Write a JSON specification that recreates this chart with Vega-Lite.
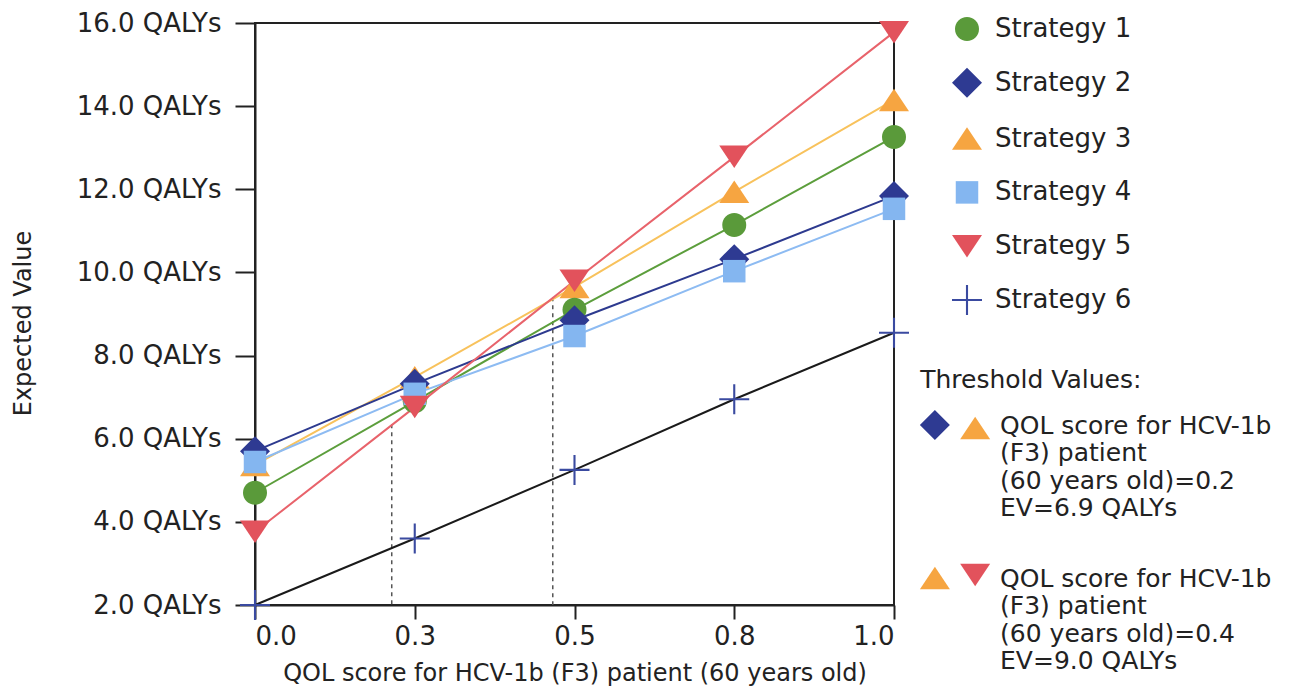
{
  "$schema": "https://vega.github.io/schema/vega-lite/v6.json",
  "width": 639,
  "height": 582,
  "autosize": {"type": "none"},
  "padding": {"left": 255, "top": 23, "right": 403, "bottom": 88},
  "background": "white",
  "config": {
    "font": "DejaVu Sans",
    "view": {"stroke": "#222", "strokeWidth": 2},
    "axis": {
      "grid": false,
      "domainColor": "#222",
      "domainWidth": 2,
      "tickColor": "#222",
      "tickWidth": 2,
      "labelFont": "DejaVu Sans",
      "labelFontSize": 26,
      "labelColor": "#222",
      "titleFont": "DejaVu Sans",
      "titleFontSize": 24,
      "titleColor": "#222",
      "titleFontWeight": "normal"
    },
    "legend": {
      "labelFont": "DejaVu Sans",
      "labelFontSize": 26,
      "labelColor": "#222",
      "padding": 0,
      "rowPadding": 25.8,
      "labelOffset": 13,
      "symbolSize": 900,
      "symbolStrokeWidth": 0
    }
  },
  "datasets": {
    "main": [
      {"strategy": "Strategy 6", "qol": 0, "ev": 2.0},
      {"strategy": "Strategy 6", "qol": 0.25, "ev": 3.6},
      {"strategy": "Strategy 6", "qol": 0.5, "ev": 5.25},
      {"strategy": "Strategy 6", "qol": 0.75, "ev": 6.95},
      {"strategy": "Strategy 6", "qol": 1, "ev": 8.55},
      {"strategy": "Strategy 3", "qol": 0, "ev": 5.37},
      {"strategy": "Strategy 3", "qol": 0.25, "ev": 7.48},
      {"strategy": "Strategy 3", "qol": 0.5, "ev": 9.65},
      {"strategy": "Strategy 3", "qol": 0.75, "ev": 11.94},
      {"strategy": "Strategy 3", "qol": 1, "ev": 14.15},
      {"strategy": "Strategy 1", "qol": 0, "ev": 4.7},
      {"strategy": "Strategy 1", "qol": 0.25, "ev": 6.9},
      {"strategy": "Strategy 1", "qol": 0.5, "ev": 9.1},
      {"strategy": "Strategy 1", "qol": 0.75, "ev": 11.14},
      {"strategy": "Strategy 1", "qol": 1, "ev": 13.26},
      {"strategy": "Strategy 2", "qol": 0, "ev": 5.7},
      {"strategy": "Strategy 2", "qol": 0.25, "ev": 7.32},
      {"strategy": "Strategy 2", "qol": 0.5, "ev": 8.85},
      {"strategy": "Strategy 2", "qol": 0.75, "ev": 10.32},
      {"strategy": "Strategy 2", "qol": 1, "ev": 11.84},
      {"strategy": "Strategy 4", "qol": 0, "ev": 5.44},
      {"strategy": "Strategy 4", "qol": 0.25, "ev": 7.08},
      {"strategy": "Strategy 4", "qol": 0.5, "ev": 8.47},
      {"strategy": "Strategy 4", "qol": 0.75, "ev": 10.03},
      {"strategy": "Strategy 4", "qol": 1, "ev": 11.53},
      {"strategy": "Strategy 5", "qol": 0, "ev": 3.76},
      {"strategy": "Strategy 5", "qol": 0.25, "ev": 6.76},
      {"strategy": "Strategy 5", "qol": 0.5, "ev": 9.8},
      {"strategy": "Strategy 5", "qol": 0.75, "ev": 12.78},
      {"strategy": "Strategy 5", "qol": 1, "ev": 15.78}
    ],
    "thresholds": [
      {"qol": 0.214, "ev": 6.35},
      {"qol": 0.466, "ev": 9.4}
    ],
    "one": [{}]
  },
  "layer": [
    {
      "data": {"name": "thresholds"},
      "mark": {"type": "rule", "color": "#555", "strokeWidth": 1.5, "strokeDash": [4, 4]},
      "encoding": {
        "x": {"field": "qol", "type": "quantitative", "title": "QOL score for HCV-1b (F3) patient (60 years old)",
          "scale": {"domain": [0, 1], "nice": false, "zero": false},
          "axis": {"values": [0, 0.25, 0.5, 0.75, 1], "format": ".1f", "tickSize": 14, "labelPadding": 4, "titleBaseline": "alphabetic", "titleY": 75}},
        "y": {"field": "ev", "type": "quantitative", "title": "Expected Value",
          "scale": {"domain": [2, 16], "nice": false, "zero": false},
          "axis": {"values": [2, 4, 6, 8, 10, 12, 14, 16], "labelExpr": "format(datum.value, '.1f') + ' QALYs'", "tickSize": 20, "labelPadding": 14, "titleX": -225, "titleY": 300, "titleBaseline": "alphabetic"}},
        "y2": {"datum": 2}
      }
    },
    {
      "data": {"name": "main"},
      "mark": {"type": "line", "strokeWidth": 2},
      "encoding": {
        "x": {"field": "qol", "type": "quantitative", "title": "QOL score for HCV-1b (F3) patient (60 years old)"},
        "y": {"field": "ev", "type": "quantitative", "title": "Expected Value"},
        "stroke": {"field": "strategy", "type": "nominal", "legend": null,
          "scale": {"domain": ["Strategy 6", "Strategy 5", "Strategy 4", "Strategy 3", "Strategy 2", "Strategy 1"],
            "range": ["#1a1a1a", "#e8636b", "#8dbbf2", "#f8c25c", "#2d3a8f", "#5c9e3c"]}}
      }
    },
    {
      "data": {"name": "main"},
      "mark": {"type": "point", "filled": true, "size": 900, "strokeWidth": 0, "opacity": 1},
      "encoding": {
        "x": {"field": "qol", "type": "quantitative", "title": "QOL score for HCV-1b (F3) patient (60 years old)"},
        "y": {"field": "ev", "type": "quantitative", "title": "Expected Value"},
        "fill": {"field": "strategy", "type": "nominal",
          "scale": {"domain": ["Strategy 1", "Strategy 2", "Strategy 3", "Strategy 4", "Strategy 5", "Strategy 6"],
            "range": ["#5a9a3a", "#2e3a92", "#f6a541", "#84b6f0", "#e2525c", "#3a4aa0"]},
          "legend": {"orient": "none", "legendX": 697, "legendY": -9, "title": null}},
        "shape": {"field": "strategy", "type": "nominal",
          "scale": {"domain": ["Strategy 1", "Strategy 2", "Strategy 3", "Strategy 4", "Strategy 5", "Strategy 6"],
            "range": [
              "M0.8,0C0.8,0.442,0.442,0.8,0,0.8C-0.442,0.8,-0.8,0.442,-0.8,0C-0.8,-0.442,-0.442,-0.8,0,-0.8C0.442,-0.8,0.8,-0.442,0.8,0Z",
              "M0,-1L1,0L0,1L-1,0Z",
              "M0,-0.75L1,0.75L-1,0.75Z",
              "M-0.75,-0.75H0.75V0.75H-0.75Z",
              "M-1,-0.75L1,-0.75L0,0.75Z",
              "M-1,-0.07H1V0.07H-1ZM-0.07,-1H0.07V1H-0.07Z"
            ]},
          "legend": {"orient": "none", "legendX": 697, "legendY": -9, "title": null}}
      }
    },
    {
      "data": {"name": "one"},
      "mark": {"type": "text", "text": "Threshold Values:", "align": "left", "baseline": "middle", "fontSize": 25, "color": "#222"},
      "encoding": {"x": {"datum": 1.041, "type": "quantitative"}, "y": {"datum": 7.41, "type": "quantitative"}}
    },
    {
      "data": {"name": "one"},
      "mark": {"type": "point", "filled": true, "size": 900, "strokeWidth": 0, "opacity": 1, "color": "#2e3a92", "shape": "M0,-1L1,0L0,1L-1,0Z"},
      "encoding": {"x": {"datum": 1.064, "type": "quantitative"}, "y": {"datum": 6.33, "type": "quantitative"}}
    },
    {
      "data": {"name": "one"},
      "mark": {"type": "point", "filled": true, "size": 900, "strokeWidth": 0, "opacity": 1, "color": "#f6a541", "shape": "M0,-0.75L1,0.75L-1,0.75Z"},
      "encoding": {"x": {"datum": 1.127, "type": "quantitative"}, "y": {"datum": 6.26, "type": "quantitative"}}
    },
    {
      "data": {"name": "one"},
      "mark": {"type": "point", "filled": true, "size": 900, "strokeWidth": 0, "opacity": 1, "color": "#f6a541", "shape": "M0,-0.75L1,0.75L-1,0.75Z"},
      "encoding": {"x": {"datum": 1.064, "type": "quantitative"}, "y": {"datum": 2.65, "type": "quantitative"}}
    },
    {
      "data": {"name": "one"},
      "mark": {"type": "point", "filled": true, "size": 900, "strokeWidth": 0, "opacity": 1, "color": "#e2525c", "shape": "M-1,-0.75L1,-0.75L0,0.75Z"},
      "encoding": {"x": {"datum": 1.127, "type": "quantitative"}, "y": {"datum": 2.72, "type": "quantitative"}}
    },
    {
      "data": {"name": "one"},
      "mark": {"type": "text", "text": ["QOL score for HCV-1b", "(F3) patient", "(60 years old)=0.2", "EV=6.9 QALYs"], "align": "left", "baseline": "top", "fontSize": 25, "lineHeight": 27.5, "color": "#222"},
      "encoding": {"x": {"datum": 1.166, "type": "quantitative"}, "y": {"datum": 6.6, "type": "quantitative"}}
    },
    {
      "data": {"name": "one"},
      "mark": {"type": "text", "text": ["QOL score for HCV-1b", "(F3) patient", "(60 years old)=0.4", "EV=9.0 QALYs"], "align": "left", "baseline": "top", "fontSize": 25, "lineHeight": 27.5, "color": "#222"},
      "encoding": {"x": {"datum": 1.166, "type": "quantitative"}, "y": {"datum": 2.92, "type": "quantitative"}}
    }
  ]
}
